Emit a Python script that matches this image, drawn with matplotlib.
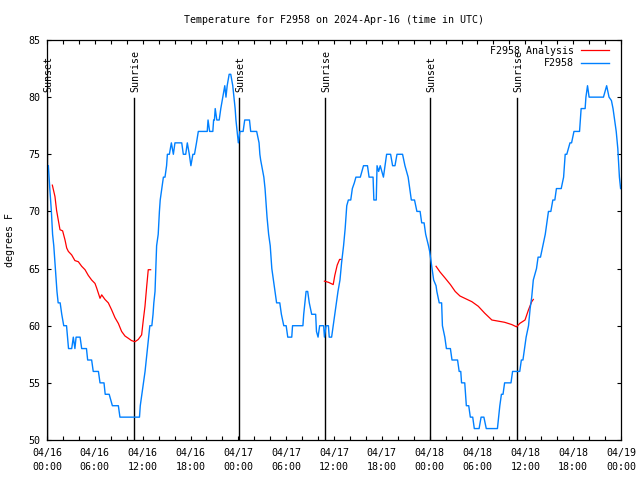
import matplotlib
matplotlib.use("Agg")
import matplotlib.pyplot as plt
import numpy as np

# observed temperature, hours after 04/16 00:00 UTC
obs_hours = [0.17, 0.35, 0.55, 0.7, 0.85, 1.05, 1.25, 1.4, 1.65, 1.85,
             2.1, 2.45, 2.7, 3.1, 3.3, 3.5, 3.65, 4.15, 4.35, 4.95,
             5.1, 5.6, 5.8, 6.45, 6.65, 7.15, 7.3, 7.8, 8.2, 8.95,
             9.15, 11.6, 11.7, 11.9, 12.1, 12.3, 12.45, 12.6, 12.75, 12.9,
             13.15, 13.3, 13.4, 13.55, 13.65, 13.75, 13.95, 14.1, 14.2, 14.4,
             14.6, 14.8, 15.0, 15.1, 15.35, 15.6, 15.85, 16.05, 16.9, 17.1,
             17.4, 17.6, 17.85, 18.05, 18.3, 18.5, 18.75, 18.98, 20.1, 20.2,
             20.4, 20.8, 20.9, 21.0, 21.1, 21.3, 21.6, 21.8, 22.05, 22.3,
             22.45, 22.6, 22.85, 23.05, 23.3, 23.45, 23.6, 23.7, 23.85, 24.0,
             24.2, 24.6, 24.8, 25.4, 25.55, 26.3, 26.6, 26.7, 26.8, 27.2,
             27.35, 27.6, 27.8, 28.0, 28.2, 28.4, 28.6, 28.8, 29.2, 29.4,
             29.7, 30.0, 30.2, 30.7, 30.8, 32.1, 32.2, 32.5, 32.7, 32.9,
             33.2, 33.7, 33.8, 34.0, 34.2, 34.7, 34.8, 35.0, 35.3, 35.4,
             35.7, 35.9, 36.1, 36.3, 36.5, 36.75, 36.95, 37.2, 37.4, 37.6,
             37.8, 38.1, 38.3, 38.55, 38.75, 39.3, 39.5, 39.7, 40.2, 40.4,
             40.9, 41.0, 41.3, 41.4, 41.6, 41.8, 42.2, 42.4, 42.6, 43.1,
             43.35, 43.65, 43.9, 44.6, 44.9, 45.3, 45.5, 45.7, 46.1, 46.4,
             46.8, 47.0, 47.3, 47.5, 47.85, 48.0, 48.2, 48.5, 48.8, 48.9,
             49.2, 49.5, 49.6, 49.9, 50.1, 50.6, 50.8, 51.5, 51.7, 51.9,
             52.0, 52.4, 52.6, 52.9, 53.1, 53.4, 53.6, 54.2, 54.45, 54.8,
             55.1, 56.5, 56.8, 57.0, 57.2, 57.4, 58.2, 58.4, 59.3, 59.5,
             59.7, 59.9, 60.1, 60.4, 60.6, 60.8, 61.0, 61.2, 61.4, 61.6,
             61.9, 62.2, 62.5, 62.7, 62.9, 63.2, 63.45, 63.7, 63.9, 64.5,
             64.8, 65.0, 65.2, 65.6, 65.8, 66.1, 66.8, 67.0, 67.5, 67.6,
             67.8, 68.0, 69.8, 70.0, 70.2, 70.5, 70.8, 71.0, 71.2, 71.4,
             71.6, 71.8, 71.95]
obs_temp = [74, 72, 70, 68, 67, 65, 63, 62, 62, 61,
            60, 60, 58, 58, 59, 58, 59, 59, 58, 58,
            57, 57, 56, 56, 55, 55, 54, 54, 53, 53,
            52, 52, 53, 54, 55, 56, 57, 58, 59, 60,
            60, 61, 62, 63, 65, 67, 68, 70, 71, 72,
            73, 73, 74, 75, 75, 76, 75, 76, 76, 75,
            75, 76, 75, 74, 75, 75, 76, 77, 77, 78,
            77, 77, 78, 78, 79, 78, 78, 79, 80, 81,
            80, 81, 82, 82, 81, 80, 79, 78, 77, 76,
            77, 77, 78, 78, 77, 77, 76, 75, 74.5, 73,
            72, 69.5, 68, 67, 65, 64, 63, 62, 62, 61,
            60, 60, 59, 59, 60, 60, 61, 63, 63, 62,
            61, 61, 59.5, 59, 60, 60, 59, 60, 60, 59,
            59, 60, 61, 62, 63, 64, 65.5, 67, 68.5, 70.5,
            71, 71, 72, 72.5, 73, 73, 73.5, 74, 74, 73,
            73, 71, 71, 74, 73.5, 74, 73, 74, 75, 75,
            74, 74, 75, 75, 74, 73, 72, 71, 71, 70,
            70, 69, 69, 68, 67, 66.5, 65.5, 64, 63.5, 63,
            62, 62, 60, 59, 58, 58, 57, 57, 56, 56,
            55, 55, 53, 53, 52, 52, 51, 51, 52, 52,
            51, 51, 53, 54, 54, 55, 55, 56, 56, 57,
            57, 58, 59, 60, 61.5, 62.5, 64, 64.5, 65, 66,
            66, 67, 68, 69, 70, 70, 71, 71, 72, 72,
            73, 75, 75, 76, 76, 77, 77, 79, 79, 80,
            81, 80, 80, 80.5, 81, 80, 79.7, 79, 78, 77,
            75.5, 73, 72]

# analysis runs (three separate pieces)
ana1_hours = [0.67, 1.0, 1.2, 1.4, 1.63, 1.96, 2.26, 2.47, 2.68, 3.09,
              3.5, 3.93, 4.35, 4.77, 5.18, 5.6, 6.02, 6.23, 6.65, 6.86,
              7.27, 7.69, 8.1, 8.53, 8.95, 9.36, 9.78, 10.2, 10.6, 11.04,
              11.45, 11.87, 12.08, 12.29, 12.5, 12.7, 13.0]
ana1_temp = [72.3, 71.3, 70.1, 69.3, 68.4, 68.3, 67.5, 66.8, 66.5, 66.2,
             65.7, 65.6, 65.2, 64.9, 64.4, 64.0, 63.7, 63.3, 62.4, 62.7,
             62.3, 62.0, 61.4, 60.7, 60.2, 59.5, 59.1, 58.9, 58.7, 58.6,
             58.8, 59.2, 60.5, 61.7, 63.4, 64.9, 64.9]
ana2_hours = [34.8, 35.3, 35.9, 36.1, 36.4, 36.7, 36.9]
ana2_temp = [63.9, 63.8, 63.6, 64.4, 65.3, 65.8, 65.8]
ana3_hours = [48.8, 49.3, 49.9, 50.6, 51.2, 51.8, 52.4, 53.3, 54.1, 54.9,
              55.8, 56.6, 57.4, 58.3, 58.9, 59.3, 59.96, 60.4, 60.8, 61.0]
ana3_temp = [65.2, 64.7, 64.2, 63.6, 63.0, 62.6, 62.4, 62.1, 61.7, 61.1,
             60.5, 60.4, 60.3, 60.1, 59.9, 60.2, 60.5, 61.4, 62.1, 62.3]

sun_hours = [0.05, 10.95, 24.05, 34.92, 48.08, 58.95]
sun_names = ['Sunset', 'Sunrise', 'Sunset', 'Sunrise', 'Sunset', 'Sunrise']

xtick_hours = [0, 6, 12, 18, 24, 30, 36, 42, 48, 54, 60, 66, 72]
xtick_labels = ['04/16\n00:00', '04/16\n06:00', '04/16\n12:00', '04/16\n18:00',
                '04/17\n00:00', '04/17\n06:00', '04/17\n12:00', '04/17\n18:00',
                '04/18\n00:00', '04/18\n06:00', '04/18\n12:00', '04/18\n18:00',
                '04/19\n00:00']
ytick_vals = [50, 55, 60, 65, 70, 75, 80, 85]

plt.rcParams['font.family'] = 'DejaVu Sans Mono'
fs = 7.2

fig = plt.figure(figsize=(6.4, 4.8), dpi=100)
ax = fig.add_axes([47 / 640, 40 / 480, 574 / 640, 400 / 480])

for h, name in zip(sun_hours, sun_names):
    ax.plot([h, h], [50, 79.9], color='black', lw=1.0, zorder=1)
    ax.text(h + 0.15, 80.45, name, rotation=90, ha='center', va='bottom',
            fontsize=fs, zorder=3)

ax.plot(ana1_hours, ana1_temp, color='#ff0000', lw=0.9, label='F2958 Analysis', zorder=2)
ax.plot(ana2_hours, ana2_temp, color='#ff0000', lw=0.9, zorder=2)
ax.plot(ana3_hours, ana3_temp, color='#ff0000', lw=0.9, zorder=2)
ax.plot(obs_hours, obs_temp, color='#0080ff', lw=1.0, label='F2958', zorder=2)

ax.set_xlim(0, 72)
ax.set_ylim(50, 85)
ax.set_xticks(xtick_hours)
ax.set_xticklabels(xtick_labels, fontsize=fs)
ax.set_xticks(np.arange(0, 73, 2), minor=True)
ax.set_yticks(ytick_vals)
ax.set_yticklabels([str(v) for v in ytick_vals], fontsize=fs)
ax.tick_params(which='both', direction='in', length=3.2, width=0.8,
               top=True, right=True, color='black')
ax.tick_params(axis='x', which='major', pad=6)
ax.tick_params(axis='y', which='major', pad=5)
for lbl in ax.get_xticklabels():
    lbl.set_linespacing(1.45)
for sp in ax.spines.values():
    sp.set_linewidth(0.9)

ax.legend(loc='upper right', bbox_to_anchor=(1 - 12 / 574, 1 - 6 / 400),
          frameon=False, markerfirst=False, fontsize=fs, handlelength=2.8,
          handletextpad=0.7, borderpad=0, borderaxespad=0, labelspacing=0.25)

fig.text(334 / 640, 1 - 20 / 480, 'Temperature for F2958 on 2024-Apr-16 (time in UTC)',
         ha='center', va='center', fontsize=fs)
fig.text(10 / 640, 0.5, 'degrees F', rotation=90, ha='center', va='center', fontsize=fs)

fig.savefig('out.png', dpi=100)
